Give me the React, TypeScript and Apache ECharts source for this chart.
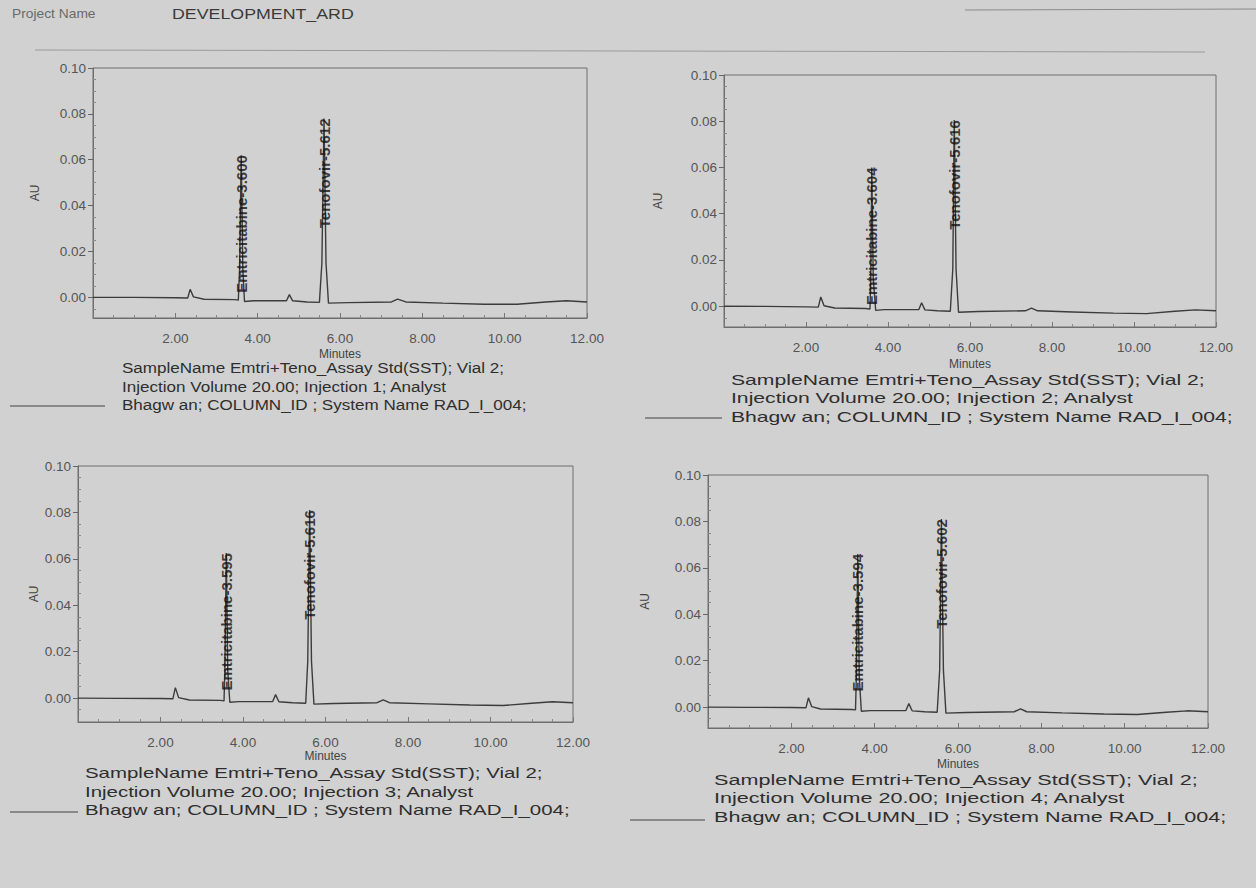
import React, { useEffect, useRef } from "react";
import * as echarts from "echarts";

// ---- data ----
const X_TICKS = [2, 4, 6, 8, 10, 12];
const Y_TICKS = [0, 0.02, 0.04, 0.06, 0.08, 0.1];
const Y_MINOR = [-0.005, 0.005, 0.01, 0.015, 0.025, 0.03, 0.035, 0.045, 0.05, 0.055, 0.065, 0.07, 0.075, 0.085, 0.09, 0.095];

const TRACE_1: [number, number][] = [
  [0, 0.0], [1.0, 0.0], [2.0, -0.0002], [2.3, -0.0003], [2.36, 0.0035], [2.44, 0.0002], [2.7, -0.0008],
  [3.45, -0.001], [3.53, -0.0012], [3.56, 0.012], [3.6, 0.062], [3.64, 0.012], [3.68, -0.0018],
  [3.9, -0.0015], [4.7, -0.0015], [4.77, 0.0012], [4.85, -0.0015], [5.2, -0.002],
  [5.5, -0.0022], [5.56, 0.015], [5.612, 0.078], [5.66, 0.015], [5.72, -0.0025],
  [6.2, -0.0023], [7.25, -0.002], [7.4, -0.0008], [7.6, -0.002], [8.5, -0.0025],
  [9.5, -0.003], [10.3, -0.003], [11.0, -0.002], [11.5, -0.0015], [12, -0.002],
];
const PEAKS_1: [number, number, string][] = [
  [3.6, 0.062, "Emtricitabine-3.600"],
  [5.612, 0.078, "Tenofovir-5.612"],
];

const TRACE_2: [number, number][] = [
  [0, 0.0], [1.0, -0.0001], [2.0, -0.0003], [2.3, -0.0004], [2.36, 0.004], [2.44, 0.0002], [2.7, -0.0008],
  [3.45, -0.001], [3.56, -0.0012], [3.58, 0.012], [3.604, 0.06], [3.64, 0.012], [3.7, -0.0018],
  [3.9, -0.0015], [4.75, -0.0015], [4.82, 0.0015], [4.9, -0.0016], [5.2, -0.002],
  [5.52, -0.0022], [5.58, 0.016], [5.616, 0.0805], [5.66, 0.016], [5.72, -0.0026],
  [6.2, -0.0023], [7.35, -0.002], [7.5, -0.0008], [7.65, -0.002], [8.5, -0.0025],
  [9.5, -0.003], [10.3, -0.0032], [11.0, -0.0022], [11.5, -0.0016], [12, -0.002],
];
const PEAKS_2: [number, number, string][] = [
  [3.604, 0.06, "Emtricitabine-3.604"],
  [5.616, 0.0805, "Tenofovir-5.616"],
];

const TRACE_3: [number, number][] = [
  [0, 0.0], [1.0, -0.0001], [2.0, -0.0002], [2.3, -0.0003], [2.36, 0.0045], [2.44, 0.0002], [2.7, -0.0008],
  [3.45, -0.001], [3.54, -0.0012], [3.56, 0.012], [3.595, 0.0625], [3.63, 0.012], [3.68, -0.0018],
  [3.9, -0.0015], [4.72, -0.0015], [4.79, 0.0015], [4.87, -0.0016], [5.2, -0.002],
  [5.52, -0.0022], [5.57, 0.016], [5.616, 0.081], [5.66, 0.016], [5.72, -0.0026],
  [6.2, -0.0023], [7.25, -0.002], [7.4, -0.0008], [7.55, -0.002], [8.5, -0.0025],
  [9.5, -0.003], [10.3, -0.0032], [11.0, -0.0022], [11.5, -0.0016], [12, -0.002],
];
const PEAKS_3: [number, number, string][] = [
  [3.595, 0.0625, "Emtricitabine-3.595"],
  [5.616, 0.081, "Tenofovir-5.616"],
];

const TRACE_4: [number, number][] = [
  [0, 0.0], [1.0, -0.0001], [2.0, -0.0002], [2.35, -0.0003], [2.41, 0.004], [2.49, 0.0002], [2.7, -0.0008],
  [3.45, -0.001], [3.54, -0.0012], [3.56, 0.013], [3.594, 0.066], [3.63, 0.013], [3.68, -0.0018],
  [3.9, -0.0015], [4.75, -0.0015], [4.82, 0.0015], [4.9, -0.0016], [5.2, -0.002],
  [5.5, -0.0022], [5.56, 0.016], [5.602, 0.081], [5.65, 0.016], [5.71, -0.0026],
  [6.2, -0.0023], [7.35, -0.002], [7.5, -0.0008], [7.65, -0.002], [8.5, -0.0025],
  [9.5, -0.003], [10.3, -0.0032], [11.0, -0.0022], [11.5, -0.0016], [12, -0.002],
];
const PEAKS_4: [number, number, string][] = [
  [3.594, 0.066, "Emtricitabine-3.594"],
  [5.602, 0.081, "Tenofovir-5.602"],
];

const INJECTIONS = [1, 2, 3, 4];
const CAPTION_1 = "SampleName Emtri+Teno_Assay Std(SST); Vial 2;";
const CAPTION_2 = (n: number) => `Injection Volume 20.00; Injection ${n}; Analyst`;
const CAPTION_3 = "Bhagw an; COLUMN_ID ; System Name RAD_I_004;";

const TRACES = [TRACE_1, TRACE_2, TRACE_3, TRACE_4];
const PEAKS = [PEAKS_1, PEAKS_2, PEAKS_3, PEAKS_4];

// ---- layout ----
const LAYOUT = [
  { left: 93, top: 68, width: 494, height: 250, ymin: -0.009, yGap: 52, nGap: 30, cap: { x: 122, y: 359, w: 382 }, leg: [10, 105, 406] },
  { left: 724, top: 75, width: 492, height: 252, ymin: -0.009, yGap: 60, nGap: 31, cap: { x: 731, y: 371, w: 474 }, leg: [645, 722, 418] },
  { left: 78, top: 466, width: 495, height: 256, ymin: -0.0103, yGap: 38, nGap: 28, cap: { x: 85, y: 764, w: 458 }, leg: [10, 78, 812] },
  { left: 708, top: 475, width: 500, height: 253, ymin: -0.009, yGap: 57, nGap: 30, cap: { x: 714, y: 771, w: 484 }, leg: [630, 705, 820] },
];

const FONT = "Liberation Sans";
const BG = "#d1d1d1";
const CAP_FS = 14;
const CAP_BASE_W = 22.4 * CAP_FS; // approx natural width of line 1

export default function App() {
  const ref = useRef<HTMLDivElement>(null);
  useEffect(() => {
    document.body.style.margin = "0";
    document.body.style.background = BG;
    const chart = echarts.init(ref.current!, null, { renderer: "svg" });

    const grid: any[] = [];
    const xAxis: any[] = [];
    const yAxis: any[] = [];
    const series: any[] = [];
    const graphic: any[] = [];

    LAYOUT.forEach((L, i) => {
      grid.push({
        left: L.left, top: L.top, width: L.width, height: L.height,
        show: true, borderColor: "#6e6e6e", borderWidth: 1, backgroundColor: "transparent",
      });
      xAxis.push({
        type: "value", gridIndex: i, min: 0, max: 12, interval: 2,
        name: "Minutes", nameLocation: "middle", nameGap: L.nGap,
        nameTextStyle: { fontFamily: FONT, fontSize: 12, color: "#444" },
        axisLine: { show: true, onZero: false, lineStyle: { color: "#6e6e6e" } },
        axisTick: { show: true, inside: true, length: 5, lineStyle: { color: "#777" } },
        minorTick: { show: true, splitNumber: 4, length: 3, lineStyle: { color: "#888" } },
        axisLabel: {
          fontFamily: FONT, fontSize: 13.5, color: "#555", margin: 13,
          formatter: (v: number) => (X_TICKS.includes(v) ? v.toFixed(2) : ""),
        },
        splitLine: { show: false },
      });
      yAxis.push({
        type: "value", gridIndex: i, min: L.ymin, max: 0.1, position: "left",
        name: "AU", nameLocation: "middle", nameGap: L.yGap,
        nameTextStyle: { fontFamily: FONT, fontSize: 12, color: "#444" },
        axisLine: { show: true, lineStyle: { color: "#6e6e6e" } },
        axisTick: { show: true, length: 5, customValues: Y_TICKS, lineStyle: { color: "#666" } },
        axisLabel: {
          customValues: Y_TICKS, fontFamily: FONT, fontSize: 13.5, color: "#555", margin: 7,
          formatter: (v: number) => v.toFixed(2),
        },
        splitLine: { show: false },
      });
      yAxis.push({
        type: "value", gridIndex: i, min: L.ymin, max: 0.1, position: "left",
        axisLine: { show: false },
        axisTick: { show: true, inside: true, length: 3, customValues: Y_MINOR, lineStyle: { color: "#888" } },
        axisLabel: { show: false },
        splitLine: { show: false },
      });
      series.push({
        type: "line", xAxisIndex: i, yAxisIndex: 2 * i, data: TRACES[i],
        symbol: "none", lineStyle: { color: "#3c3c3c", width: 1.4 }, z: 3,
      });
      series.push({
        type: "scatter", xAxisIndex: i, yAxisIndex: 2 * i, data: PEAKS[i],
        symbolSize: 1, itemStyle: { color: "rgba(0,0,0,0)" }, z: 4,
        label: {
          show: true, position: "inside", rotate: 90, align: "right", verticalAlign: "middle",
          formatter: (p: any) => p.value[2], fontFamily: FONT, fontSize: 15, fontWeight: "bold", color: "#111",
        },
      });
      graphic.push({
        type: "text", x: L.cap.x, y: L.cap.y, scaleX: L.cap.w / CAP_BASE_W, scaleY: 1,
        style: {
          text: [CAPTION_1, CAPTION_2(INJECTIONS[i]), CAPTION_3].join("\n"),
          font: `${CAP_FS}px "${FONT}"`, fill: "#2e2e2e", lineHeight: 18.5, verticalAlign: "top",
        },
      });
      graphic.push({
        type: "line", shape: { x1: L.leg[0], y1: L.leg[2], x2: L.leg[1], y2: L.leg[2] },
        style: { stroke: "#444", lineWidth: 1.2 },
      });
    });

    graphic.push(
      { type: "text", x: 12, y: 8, scaleX: 1.15, style: { text: "Project Name", font: `12px "${FONT}"`, fill: "#6a6a6a", verticalAlign: "top" } },
      { type: "text", x: 172, y: 7, scaleX: 1.27, style: { text: "DEVELOPMENT_ARD", font: `14px "${FONT}"`, fill: "#3a3a3a", verticalAlign: "top" } },
      { type: "line", shape: { x1: 35, y1: 50, x2: 1205, y2: 52 }, style: { stroke: "#9a9a9a", lineWidth: 1 } },
      { type: "line", shape: { x1: 965, y1: 10, x2: 1256, y2: 9 }, style: { stroke: "#8a8a8a", lineWidth: 1 } },
    );

    chart.setOption({
      animation: false,
      backgroundColor: BG,
      grid, xAxis, yAxis, series, graphic,
    });
    return () => chart.dispose();
  }, []);
  return <div ref={ref} style={{ position: "fixed", left: 0, top: 0, width: 1256, height: 888 }} />;
}
